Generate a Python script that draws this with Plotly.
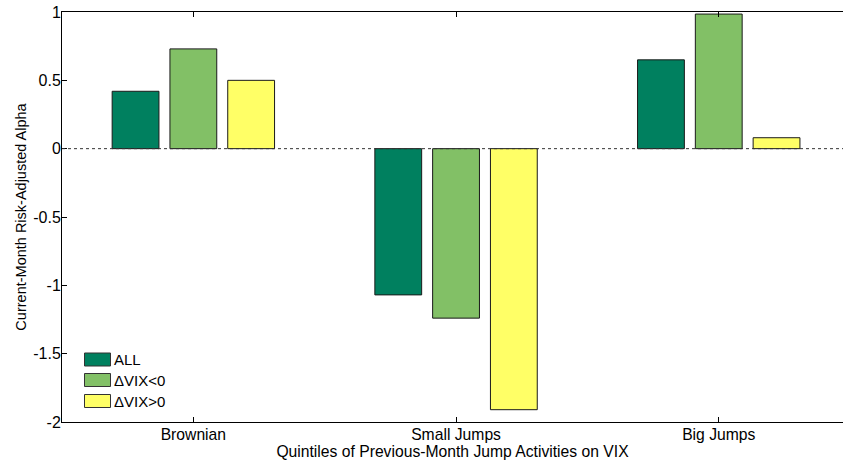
import plotly.graph_objects as go

categories = ["Brownian", "Small Jumps", "Big Jumps"]
series_names = ["ALL", "ΔVIX<0", "ΔVIX>0"]
all_vals = [0.42, -1.07, 0.65]
dvix_neg_vals = [0.73, -1.24, 0.985]
dvix_pos_vals = [0.50, -1.91, 0.08]
colors = ["#00805F", "#82C066", "#FFFF66"]
ytick_vals = [-2, -1.5, -1, -0.5, 0, 0.5, 1]
ytick_text = ["-2", "-1.5", "-1", "-0.5", "0", "0.5", "1"]

W, H = 843, 461
ML, MR, MT, MB = 62, 0, 12, 39
PW, PH = W - ML - MR, H - MT - MB
FONT = "Liberation Sans, Arial, Helvetica, sans-serif"
FS = 15.7


def px_x(p):
    return (p - ML) / PW


def px_y(p):
    return (H - MB - p) / PH


fig = go.Figure()
for name, vals, col in zip(series_names, [all_vals, dvix_neg_vals, dvix_pos_vals], colors):
    fig.add_trace(go.Bar(x=categories, y=vals, name=name, marker_color=col,
                         marker_line=dict(color="#1a1a1a", width=1), showlegend=False))

shapes = [dict(type="line", xref="paper", yref="y", x0=0, x1=1, y0=0, y1=0,
               line=dict(color="#333333", width=1, dash="dot"), layer="above")]
annotations = []
row_centers = [359.5, 380, 401]
for name, col, yc in zip(series_names, colors, row_centers):
    shapes.append(dict(type="rect", xref="paper", yref="paper",
                       x0=px_x(84.5), x1=px_x(110.5), y0=px_y(yc + 6.5), y1=px_y(yc - 6.5),
                       fillcolor=col, line=dict(color="#333333", width=1)))
    annotations.append(dict(xref="paper", yref="paper", x=px_x(112), y=px_y(yc),
                            xanchor="left", yanchor="middle", text=name, showarrow=False,
                            font=dict(family=FONT, size=15, color="black")))

fig.update_layout(
    width=W, height=H,
    margin=dict(l=ML, r=MR, t=MT, b=MB, autoexpand=False),
    paper_bgcolor="white", plot_bgcolor="white",
    barmode="group", bargap=0.34, bargroupgap=0.19,
    font=dict(family=FONT, size=FS, color="black"),
    shapes=shapes, annotations=annotations,
    xaxis=dict(range=[-0.5, -0.5 + PW / 262.7], showline=True, linecolor="black", linewidth=1,
               mirror="ticks", ticks="inside", ticklen=5, tickcolor="black", showgrid=False,
               zeroline=False, automargin=False, tickfont=dict(size=FS),
               ticklabelstandoff=-2,
               title=dict(text="Quintiles of Previous-Month Jump Activities on VIX", standoff=0,
                          font=dict(size=FS))),
    yaxis=dict(range=[-2, 1], tickvals=ytick_vals, ticktext=ytick_text, showline=True,
               linecolor="black", linewidth=1, mirror=False, ticks="inside", ticklen=5,
               tickcolor="black", showgrid=False, zeroline=False, automargin=False,
               tickfont=dict(size=16), ticklabelstandoff=-3,
               title=dict(text="Current-Month Risk-Adjusted Alpha", standoff=3,
                          font=dict(size=14.5))),
)

fig.write_html("out.html", config={"displayModeBar": False},
               post_script="document.body.style.margin='0px';document.body.style.overflow='hidden';")
